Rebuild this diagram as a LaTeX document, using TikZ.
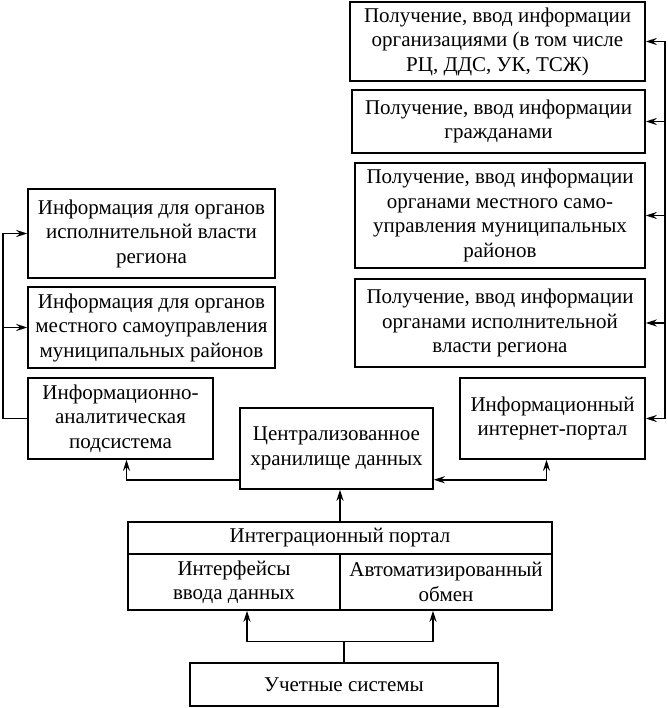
\documentclass[tikz,border=0pt]{standalone}
\usepackage{fontspec}
\setmainfont{Liberation Serif}
\usetikzlibrary{arrows.meta}

\tikzset{
    box/.style={draw, line width=1.5pt, align=center, inner sep=0pt,
        font=\fontsize{21}{24.5}\selectfont},
    arr/.style={line width=1.5pt, ->},
    >={Stealth[length=11pt, width=7pt]}
}

\begin{document}
\begin{tikzpicture}[x=1pt, y=-1pt]
    \useasboundingbox (0, 0) rectangle (667, 708);
    % right column
    \node[box, minimum width=295, minimum height=79] (orgs) at (497.5, 41.5)
        {Получение, ввод информации\\организациями (в том числе\\РЦ, ДДС, УК, ТСЖ)};
    \node[box, minimum width=293, minimum height=63] (citizens) at (498.5, 121.5)
        {Получение, ввод информации\\гражданами};
    \node[box, minimum width=290, minimum height=105] (munIn) at (500, 215.5)
        {Получение, ввод информации\\органами местного само-\\управления муниципальных\\районов};
    \node[box, minimum width=290, minimum height=88] (execIn) at (500, 323)
        {Получение, ввод информации\\органами исполнительной\\власти региона};
    \node[box, minimum width=185, minimum height=81] (portal) at (552.5, 418.5)
        {Информационный\\интернет-портал};
    % left column
    \node[box, minimum width=247, minimum height=89] (execOut) at (151.5, 233.5)
        {Информация для органов\\исполнительной власти\\региона};
    \node[box, minimum width=247, minimum height=81] (munOut) at (151.5, 327.5)
        {Информация для органов\\местного самоуправления\\муниципальных районов};
    \node[box, minimum width=185, minimum height=81] (analytic) at (120.5, 418.5)
        {Информационно-\\аналитическая\\подсистема};
    % middle
    \node[box, minimum width=193, minimum height=81] (storage) at (336.5, 448.5)
        {Централизованное\\хранилище данных};
    \node[box, minimum width=424, minimum height=32] (integ) at (340, 538)
        {Интеграционный портал};
    \node[box, minimum width=212, minimum height=56] (iface) at (234, 582)
        {Интерфейсы\\ввода данных};
    \node[box, minimum width=212, minimum height=56] (auto) at (446, 582)
        {Автоматизированный\\обмен};
    \node[box, minimum width=308, minimum height=43] (acc) at (344, 684.5)
        {Учетные системы};

    % buses
    \coordinate (busR) at (665, 0);
    \coordinate (busL) at (3, 0);
    \draw[line width=1.5pt] (busR |- orgs.east) -- (busR |- portal.east);
    \foreach \n in {orgs, citizens, munIn, execIn, portal} {
        \draw[arr] (busR |- \n.east) -- (\n.east);
    }
    \draw[arr] (analytic.west) -| (busL |- execOut.west) -- (execOut.west);
    \draw[arr] (busL |- munOut.west) -- (munOut.west);

    % storage links
    \draw[arr] ([yshift=10pt]storage.south west) -| ([xshift=6pt]analytic.south);
    \draw[arr, <->] ([yshift=10pt]storage.south east) -| ([xshift=-6pt]portal.south);
    \draw[arr] (integ.north) -- (integ.north |- storage.south);

    % accounting systems
    \coordinate (split) at ([yshift=21pt]acc.north);
    \draw[line width=1.5pt] (acc.north) -- (split);
    \draw[arr] (split) -| ([xshift=13pt]iface.south);
    \draw[arr] (split) -| ([xshift=-13pt]auto.south);
\end{tikzpicture}
\end{document}
